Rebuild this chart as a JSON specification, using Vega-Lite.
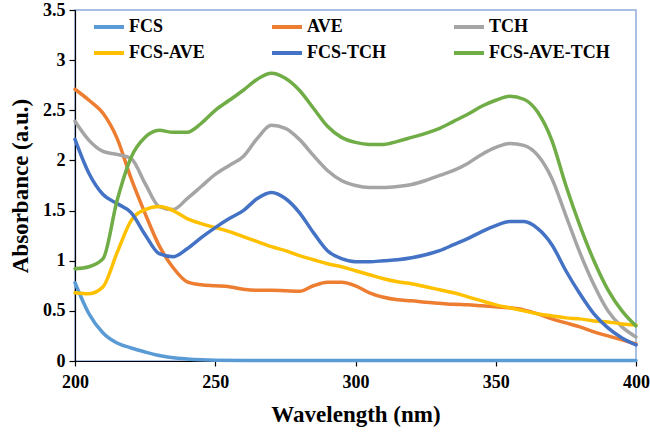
{
  "$schema": "https://vega.github.io/schema/vega-lite/v6.json",
  "width": 561,
  "height": 351,
  "autosize": {"type": "none"},
  "padding": {"left": 75, "top": 10, "right": 14, "bottom": 73},
  "background": "white",
  "config": {
    "font": "Liberation Serif",
    "view": {"stroke": "#8FAADC", "strokeWidth": 1.5},
    "axis": {
      "grid": false,
      "domainColor": "#000000",
      "domainWidth": 1.2,
      "tickColor": "#000000",
      "tickWidth": 1.2,
      "labelFont": "Liberation Serif",
      "labelFontWeight": "bold",
      "labelFontSize": 18,
      "labelColor": "#000000",
      "titleFont": "Liberation Serif",
      "titleFontWeight": "bold",
      "titleFontSize": 23,
      "titleColor": "#000000"
    }
  },
  "data": {
    "values": [
      {"wl": 200, "series": "FCS", "abs": 0.78},
      {"wl": 205, "series": "FCS", "abs": 0.47},
      {"wl": 210, "series": "FCS", "abs": 0.28},
      {"wl": 215, "series": "FCS", "abs": 0.18},
      {"wl": 220, "series": "FCS", "abs": 0.13},
      {"wl": 225, "series": "FCS", "abs": 0.09},
      {"wl": 230, "series": "FCS", "abs": 0.055},
      {"wl": 235, "series": "FCS", "abs": 0.032},
      {"wl": 240, "series": "FCS", "abs": 0.02},
      {"wl": 245, "series": "FCS", "abs": 0.012},
      {"wl": 250, "series": "FCS", "abs": 0.008},
      {"wl": 260, "series": "FCS", "abs": 0.006},
      {"wl": 280, "series": "FCS", "abs": 0.005},
      {"wl": 300, "series": "FCS", "abs": 0.005},
      {"wl": 320, "series": "FCS", "abs": 0.005},
      {"wl": 340, "series": "FCS", "abs": 0.005},
      {"wl": 360, "series": "FCS", "abs": 0.005},
      {"wl": 380, "series": "FCS", "abs": 0.005},
      {"wl": 400, "series": "FCS", "abs": 0.005},

      {"wl": 200, "series": "AVE", "abs": 2.71},
      {"wl": 205, "series": "AVE", "abs": 2.6},
      {"wl": 210, "series": "AVE", "abs": 2.47},
      {"wl": 215, "series": "AVE", "abs": 2.22},
      {"wl": 220, "series": "AVE", "abs": 1.82},
      {"wl": 225, "series": "AVE", "abs": 1.47},
      {"wl": 230, "series": "AVE", "abs": 1.15},
      {"wl": 235, "series": "AVE", "abs": 0.93},
      {"wl": 240, "series": "AVE", "abs": 0.79},
      {"wl": 245, "series": "AVE", "abs": 0.76},
      {"wl": 250, "series": "AVE", "abs": 0.75},
      {"wl": 255, "series": "AVE", "abs": 0.74},
      {"wl": 260, "series": "AVE", "abs": 0.715},
      {"wl": 265, "series": "AVE", "abs": 0.705},
      {"wl": 270, "series": "AVE", "abs": 0.705},
      {"wl": 275, "series": "AVE", "abs": 0.7},
      {"wl": 280, "series": "AVE", "abs": 0.695},
      {"wl": 285, "series": "AVE", "abs": 0.75},
      {"wl": 290, "series": "AVE", "abs": 0.785},
      {"wl": 295, "series": "AVE", "abs": 0.785},
      {"wl": 300, "series": "AVE", "abs": 0.75},
      {"wl": 305, "series": "AVE", "abs": 0.68},
      {"wl": 310, "series": "AVE", "abs": 0.635},
      {"wl": 315, "series": "AVE", "abs": 0.61},
      {"wl": 320, "series": "AVE", "abs": 0.6},
      {"wl": 325, "series": "AVE", "abs": 0.585},
      {"wl": 330, "series": "AVE", "abs": 0.575},
      {"wl": 335, "series": "AVE", "abs": 0.565},
      {"wl": 340, "series": "AVE", "abs": 0.56},
      {"wl": 345, "series": "AVE", "abs": 0.55},
      {"wl": 350, "series": "AVE", "abs": 0.54},
      {"wl": 355, "series": "AVE", "abs": 0.53},
      {"wl": 360, "series": "AVE", "abs": 0.51},
      {"wl": 365, "series": "AVE", "abs": 0.47},
      {"wl": 370, "series": "AVE", "abs": 0.42},
      {"wl": 375, "series": "AVE", "abs": 0.38},
      {"wl": 380, "series": "AVE", "abs": 0.34},
      {"wl": 385, "series": "AVE", "abs": 0.29},
      {"wl": 390, "series": "AVE", "abs": 0.25},
      {"wl": 395, "series": "AVE", "abs": 0.21},
      {"wl": 400, "series": "AVE", "abs": 0.17},

      {"wl": 200, "series": "TCH", "abs": 2.39},
      {"wl": 205, "series": "TCH", "abs": 2.2},
      {"wl": 210, "series": "TCH", "abs": 2.09},
      {"wl": 215, "series": "TCH", "abs": 2.06},
      {"wl": 220, "series": "TCH", "abs": 2.02},
      {"wl": 225, "series": "TCH", "abs": 1.77},
      {"wl": 230, "series": "TCH", "abs": 1.54},
      {"wl": 235, "series": "TCH", "abs": 1.51},
      {"wl": 240, "series": "TCH", "abs": 1.62},
      {"wl": 245, "series": "TCH", "abs": 1.74},
      {"wl": 250, "series": "TCH", "abs": 1.86},
      {"wl": 255, "series": "TCH", "abs": 1.95},
      {"wl": 260, "series": "TCH", "abs": 2.04},
      {"wl": 265, "series": "TCH", "abs": 2.22},
      {"wl": 270, "series": "TCH", "abs": 2.35},
      {"wl": 275, "series": "TCH", "abs": 2.32},
      {"wl": 280, "series": "TCH", "abs": 2.21},
      {"wl": 285, "series": "TCH", "abs": 2.05},
      {"wl": 290, "series": "TCH", "abs": 1.9},
      {"wl": 295, "series": "TCH", "abs": 1.8},
      {"wl": 300, "series": "TCH", "abs": 1.75},
      {"wl": 305, "series": "TCH", "abs": 1.73},
      {"wl": 310, "series": "TCH", "abs": 1.73},
      {"wl": 315, "series": "TCH", "abs": 1.74},
      {"wl": 320, "series": "TCH", "abs": 1.76},
      {"wl": 325, "series": "TCH", "abs": 1.8},
      {"wl": 330, "series": "TCH", "abs": 1.85},
      {"wl": 335, "series": "TCH", "abs": 1.9},
      {"wl": 340, "series": "TCH", "abs": 1.97},
      {"wl": 345, "series": "TCH", "abs": 2.06},
      {"wl": 350, "series": "TCH", "abs": 2.13},
      {"wl": 355, "series": "TCH", "abs": 2.17},
      {"wl": 360, "series": "TCH", "abs": 2.15},
      {"wl": 365, "series": "TCH", "abs": 2.05},
      {"wl": 370, "series": "TCH", "abs": 1.82},
      {"wl": 375, "series": "TCH", "abs": 1.45},
      {"wl": 380, "series": "TCH", "abs": 1.08},
      {"wl": 385, "series": "TCH", "abs": 0.76},
      {"wl": 390, "series": "TCH", "abs": 0.5},
      {"wl": 395, "series": "TCH", "abs": 0.34},
      {"wl": 400, "series": "TCH", "abs": 0.24},

      {"wl": 200, "series": "FCS-AVE", "abs": 0.68},
      {"wl": 205, "series": "FCS-AVE", "abs": 0.67},
      {"wl": 210, "series": "FCS-AVE", "abs": 0.74},
      {"wl": 215, "series": "FCS-AVE", "abs": 1.08},
      {"wl": 220, "series": "FCS-AVE", "abs": 1.4},
      {"wl": 225, "series": "FCS-AVE", "abs": 1.51},
      {"wl": 230, "series": "FCS-AVE", "abs": 1.54},
      {"wl": 235, "series": "FCS-AVE", "abs": 1.5},
      {"wl": 240, "series": "FCS-AVE", "abs": 1.42},
      {"wl": 245, "series": "FCS-AVE", "abs": 1.37},
      {"wl": 250, "series": "FCS-AVE", "abs": 1.33},
      {"wl": 255, "series": "FCS-AVE", "abs": 1.29},
      {"wl": 260, "series": "FCS-AVE", "abs": 1.24},
      {"wl": 265, "series": "FCS-AVE", "abs": 1.19},
      {"wl": 270, "series": "FCS-AVE", "abs": 1.14},
      {"wl": 275, "series": "FCS-AVE", "abs": 1.1},
      {"wl": 280, "series": "FCS-AVE", "abs": 1.05},
      {"wl": 285, "series": "FCS-AVE", "abs": 1.01},
      {"wl": 290, "series": "FCS-AVE", "abs": 0.97},
      {"wl": 295, "series": "FCS-AVE", "abs": 0.94},
      {"wl": 300, "series": "FCS-AVE", "abs": 0.9},
      {"wl": 305, "series": "FCS-AVE", "abs": 0.86},
      {"wl": 310, "series": "FCS-AVE", "abs": 0.82},
      {"wl": 315, "series": "FCS-AVE", "abs": 0.79},
      {"wl": 320, "series": "FCS-AVE", "abs": 0.77},
      {"wl": 325, "series": "FCS-AVE", "abs": 0.74},
      {"wl": 330, "series": "FCS-AVE", "abs": 0.71},
      {"wl": 335, "series": "FCS-AVE", "abs": 0.68},
      {"wl": 340, "series": "FCS-AVE", "abs": 0.64},
      {"wl": 345, "series": "FCS-AVE", "abs": 0.6},
      {"wl": 350, "series": "FCS-AVE", "abs": 0.56},
      {"wl": 355, "series": "FCS-AVE", "abs": 0.53},
      {"wl": 360, "series": "FCS-AVE", "abs": 0.5},
      {"wl": 365, "series": "FCS-AVE", "abs": 0.47},
      {"wl": 370, "series": "FCS-AVE", "abs": 0.45},
      {"wl": 375, "series": "FCS-AVE", "abs": 0.43},
      {"wl": 380, "series": "FCS-AVE", "abs": 0.42},
      {"wl": 385, "series": "FCS-AVE", "abs": 0.4},
      {"wl": 390, "series": "FCS-AVE", "abs": 0.39},
      {"wl": 395, "series": "FCS-AVE", "abs": 0.37},
      {"wl": 400, "series": "FCS-AVE", "abs": 0.36},

      {"wl": 200, "series": "FCS-TCH", "abs": 2.21},
      {"wl": 205, "series": "FCS-TCH", "abs": 1.87},
      {"wl": 210, "series": "FCS-TCH", "abs": 1.66},
      {"wl": 215, "series": "FCS-TCH", "abs": 1.57},
      {"wl": 220, "series": "FCS-TCH", "abs": 1.48},
      {"wl": 225, "series": "FCS-TCH", "abs": 1.26},
      {"wl": 230, "series": "FCS-TCH", "abs": 1.07},
      {"wl": 235, "series": "FCS-TCH", "abs": 1.04},
      {"wl": 240, "series": "FCS-TCH", "abs": 1.12},
      {"wl": 245, "series": "FCS-TCH", "abs": 1.23},
      {"wl": 250, "series": "FCS-TCH", "abs": 1.33},
      {"wl": 255, "series": "FCS-TCH", "abs": 1.42},
      {"wl": 260, "series": "FCS-TCH", "abs": 1.5},
      {"wl": 265, "series": "FCS-TCH", "abs": 1.62},
      {"wl": 270, "series": "FCS-TCH", "abs": 1.68},
      {"wl": 275, "series": "FCS-TCH", "abs": 1.62},
      {"wl": 280, "series": "FCS-TCH", "abs": 1.48},
      {"wl": 285, "series": "FCS-TCH", "abs": 1.28},
      {"wl": 290, "series": "FCS-TCH", "abs": 1.1},
      {"wl": 295, "series": "FCS-TCH", "abs": 1.02},
      {"wl": 300, "series": "FCS-TCH", "abs": 0.99},
      {"wl": 305, "series": "FCS-TCH", "abs": 0.99},
      {"wl": 310, "series": "FCS-TCH", "abs": 1.0},
      {"wl": 315, "series": "FCS-TCH", "abs": 1.01},
      {"wl": 320, "series": "FCS-TCH", "abs": 1.03},
      {"wl": 325, "series": "FCS-TCH", "abs": 1.06},
      {"wl": 330, "series": "FCS-TCH", "abs": 1.1},
      {"wl": 335, "series": "FCS-TCH", "abs": 1.16},
      {"wl": 340, "series": "FCS-TCH", "abs": 1.22},
      {"wl": 345, "series": "FCS-TCH", "abs": 1.29},
      {"wl": 350, "series": "FCS-TCH", "abs": 1.35},
      {"wl": 355, "series": "FCS-TCH", "abs": 1.39},
      {"wl": 360, "series": "FCS-TCH", "abs": 1.39},
      {"wl": 365, "series": "FCS-TCH", "abs": 1.32},
      {"wl": 370, "series": "FCS-TCH", "abs": 1.16},
      {"wl": 375, "series": "FCS-TCH", "abs": 0.9},
      {"wl": 380, "series": "FCS-TCH", "abs": 0.67},
      {"wl": 385, "series": "FCS-TCH", "abs": 0.47},
      {"wl": 390, "series": "FCS-TCH", "abs": 0.33},
      {"wl": 395, "series": "FCS-TCH", "abs": 0.23},
      {"wl": 400, "series": "FCS-TCH", "abs": 0.16},

      {"wl": 200, "series": "FCS-AVE-TCH", "abs": 0.92},
      {"wl": 205, "series": "FCS-AVE-TCH", "abs": 0.94},
      {"wl": 210, "series": "FCS-AVE-TCH", "abs": 1.02},
      {"wl": 215, "series": "FCS-AVE-TCH", "abs": 1.6},
      {"wl": 220, "series": "FCS-AVE-TCH", "abs": 2.03},
      {"wl": 225, "series": "FCS-AVE-TCH", "abs": 2.23},
      {"wl": 230, "series": "FCS-AVE-TCH", "abs": 2.3},
      {"wl": 235, "series": "FCS-AVE-TCH", "abs": 2.28},
      {"wl": 240, "series": "FCS-AVE-TCH", "abs": 2.28},
      {"wl": 245, "series": "FCS-AVE-TCH", "abs": 2.37},
      {"wl": 250, "series": "FCS-AVE-TCH", "abs": 2.5},
      {"wl": 255, "series": "FCS-AVE-TCH", "abs": 2.6},
      {"wl": 260, "series": "FCS-AVE-TCH", "abs": 2.7},
      {"wl": 265, "series": "FCS-AVE-TCH", "abs": 2.81},
      {"wl": 270, "series": "FCS-AVE-TCH", "abs": 2.87},
      {"wl": 275, "series": "FCS-AVE-TCH", "abs": 2.82},
      {"wl": 280, "series": "FCS-AVE-TCH", "abs": 2.7},
      {"wl": 285, "series": "FCS-AVE-TCH", "abs": 2.52},
      {"wl": 290, "series": "FCS-AVE-TCH", "abs": 2.34},
      {"wl": 295, "series": "FCS-AVE-TCH", "abs": 2.23},
      {"wl": 300, "series": "FCS-AVE-TCH", "abs": 2.18},
      {"wl": 305, "series": "FCS-AVE-TCH", "abs": 2.16},
      {"wl": 310, "series": "FCS-AVE-TCH", "abs": 2.16},
      {"wl": 315, "series": "FCS-AVE-TCH", "abs": 2.19},
      {"wl": 320, "series": "FCS-AVE-TCH", "abs": 2.23},
      {"wl": 325, "series": "FCS-AVE-TCH", "abs": 2.27},
      {"wl": 330, "series": "FCS-AVE-TCH", "abs": 2.32},
      {"wl": 335, "series": "FCS-AVE-TCH", "abs": 2.39},
      {"wl": 340, "series": "FCS-AVE-TCH", "abs": 2.46},
      {"wl": 345, "series": "FCS-AVE-TCH", "abs": 2.54},
      {"wl": 350, "series": "FCS-AVE-TCH", "abs": 2.6},
      {"wl": 355, "series": "FCS-AVE-TCH", "abs": 2.64},
      {"wl": 360, "series": "FCS-AVE-TCH", "abs": 2.61},
      {"wl": 365, "series": "FCS-AVE-TCH", "abs": 2.48},
      {"wl": 370, "series": "FCS-AVE-TCH", "abs": 2.2},
      {"wl": 375, "series": "FCS-AVE-TCH", "abs": 1.75},
      {"wl": 380, "series": "FCS-AVE-TCH", "abs": 1.35},
      {"wl": 385, "series": "FCS-AVE-TCH", "abs": 1.0},
      {"wl": 390, "series": "FCS-AVE-TCH", "abs": 0.71},
      {"wl": 395, "series": "FCS-AVE-TCH", "abs": 0.5},
      {"wl": 400, "series": "FCS-AVE-TCH", "abs": 0.35}
    ]
  },
  "mark": {"type": "line", "interpolate": "monotone", "strokeWidth": 3.5, "strokeCap": "round"},
  "encoding": {
    "x": {
      "field": "wl",
      "type": "quantitative",
      "scale": {"domain": [200, 400], "nice": false},
      "axis": {
        "title": "Wavelength (nm)",
        "values": [200, 250, 300, 350, 400],
        "tickSize": 5,
        "labelPadding": 7,
        "titlePadding": 12,
        "labelFlush": false
      }
    },
    "y": {
      "field": "abs",
      "type": "quantitative",
      "scale": {"domain": [0, 3.5], "nice": false},
      "axis": {
        "title": "Absorbance (a.u.)",
        "values": [0, 0.5, 1, 1.5, 2, 2.5, 3, 3.5],
        "format": "~g",
        "tickSize": 6,
        "labelPadding": 4,
        "titlePadding": 10,
        "labelFlush": false
      }
    },
    "color": {
      "field": "series",
      "type": "nominal",
      "scale": {
        "domain": ["FCS", "FCS-AVE", "AVE", "FCS-TCH", "TCH", "FCS-AVE-TCH"],
        "range": ["#5B9BD5", "#FFC000", "#ED7D31", "#4472C4", "#A5A5A5", "#70AD47"]
      },
      "legend": {
        "title": null,
        "orient": "none",
        "legendX": 17,
        "legendY": 0,
        "columns": 3,
        "columnPadding": 59,
        "rowPadding": -6,
        "padding": 0,
        "symbolType": "stroke",
        "symbolSize": 900,
        "symbolStrokeWidth": 4,
        "labelOffset": 3,
        "labelFont": "Liberation Serif",
        "labelFontWeight": "bold",
        "labelFontSize": 18,
        "labelColor": "#000000",
        "labelLimit": 200
      }
    }
  }
}
